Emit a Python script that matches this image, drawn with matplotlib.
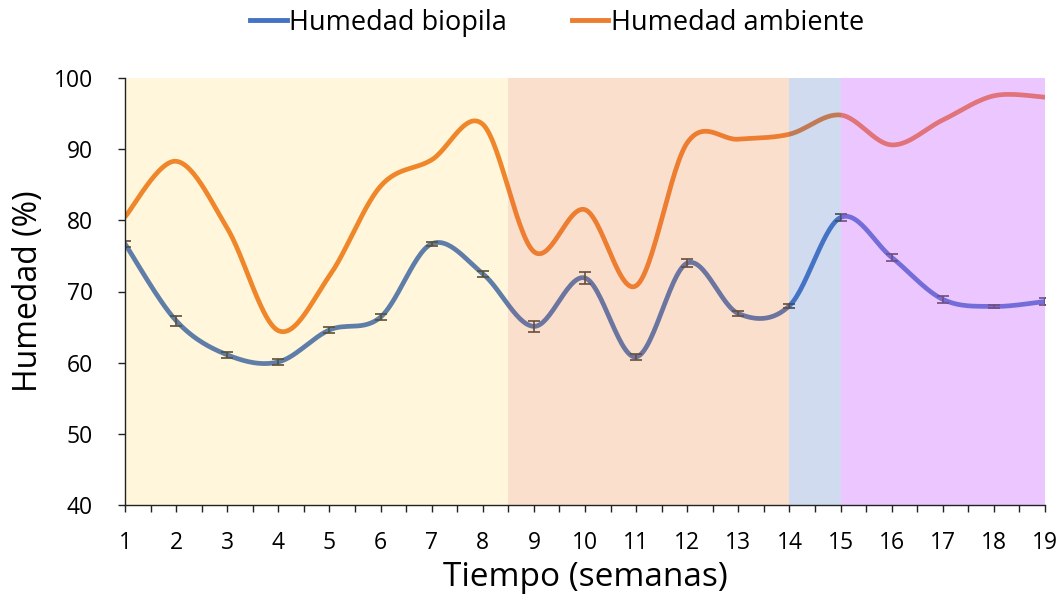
import numpy as np
import matplotlib
matplotlib.use("Agg")
import matplotlib.pyplot as plt
from matplotlib.lines import Line2D

plt.rcParams['font.family'] = ['Open Sans', 'DejaVu Sans']

weeks = list(range(1, 20))
biopila = [76.7, 65.9, 61.1, 60.1, 64.6, 66.4, 76.7, 72.5, 65.1, 71.9, 60.8, 74.0, 66.9, 68.0, 80.4, 74.8, 68.9, 67.9, 68.6]
biopila_err = [0.4, 0.7, 0.4, 0.4, 0.4, 0.4, 0.3, 0.4, 0.8, 0.8, 0.4, 0.5, 0.3, 0.3, 0.5, 0.5, 0.5, 0.2, 0.5]
ambiente = [80.5, 88.3, 78.9, 64.5, 72.2, 84.8, 88.5, 93.5, 75.6, 81.5, 70.8, 90.9, 91.4, 92.1, 94.8, 90.6, 94.1, 97.5, 97.3]

phase_edges = [1, 8.5, 14, 15, 19]
phase_colors = ['#FFC000', '#ED7D31', '#4472C4', '#CC66FF']
phase_alpha = [0.14, 0.24, 0.25, 0.36]

def smooth(x, y, n=30):
    x = np.asarray(x, float); y = np.asarray(y, float)
    P = np.column_stack([x, y])
    Pext = np.vstack([P[0], P, P[-1]])
    out = []
    t = np.linspace(0, 1, n)
    for i in range(len(P) - 1):
        p0, p3 = Pext[i + 1], Pext[i + 2]
        c1 = p0 + (Pext[i + 2] - Pext[i]) / 6
        c2 = p3 - (Pext[i + 3] - Pext[i + 1]) / 6
        seg = ((1 - t) ** 3)[:, None] * p0 + (3 * (1 - t) ** 2 * t)[:, None] * c1 + \
              (3 * (1 - t) * t ** 2)[:, None] * c2 + (t ** 3)[:, None] * p3
        out.append(seg if i == 0 else seg[1:])
    S = np.vstack(out)
    return S[:, 0], S[:, 1]

fig = plt.figure(figsize=(10.61, 5.97), dpi=100)
ax = fig.add_axes([125 / 1061, 1 - 505 / 597, 920 / 1061, 427 / 597])

blue = '#4472C4'
orange = '#ED7D31'

xs, ys = smooth(weeks, biopila)
ax.plot(xs, ys, color=blue, lw=3.4, zorder=2, solid_capstyle='round')
ax.errorbar(weeks, biopila, yerr=biopila_err, fmt='none', ecolor='#404040',
            elinewidth=1.2, capsize=4.5, capthick=1.2, zorder=2.5)
xs, ys = smooth(weeks, ambiente)
ax.plot(xs, ys, color=orange, lw=3.4, zorder=2, solid_capstyle='round')

for i in range(len(phase_colors)):
    ax.axvspan(phase_edges[i], phase_edges[i + 1], color=phase_colors[i],
               alpha=phase_alpha[i], lw=0, zorder=3)

ax.set_xlim(1, 19)
ax.set_ylim(40, 100)
ax.set_xticks(weeks)
ax.set_xticks(np.arange(1.5, 19, 1), minor=True)
ax.set_yticks(range(40, 101, 10))
for s in ['top', 'right']:
    ax.spines[s].set_visible(False)
for s in ['left', 'bottom']:
    ax.spines[s].set_color('#222222')
    ax.spines[s].set_linewidth(1.0)
    ax.spines[s].set_zorder(4)
ax.tick_params(axis='both', which='both', direction='out', length=5, width=1, color='#222222', labelsize=16.5)
ax.tick_params(axis='x', pad=14)
ax.tick_params(axis='y', pad=18)
ax.set_xlabel('Tiempo (semanas)', fontsize=24, labelpad=4)
ax.set_ylabel('Humedad (%)', fontsize=23, labelpad=6)

handles = [Line2D([], [], color=blue, lw=3.5), Line2D([], [], color=orange, lw=3.5)]
fig.legend(handles, ['Humedad biopila', 'Humedad ambiente'], loc='center',
           bbox_to_anchor=(0.525, 0.962), ncol=2, frameon=False, fontsize=19.5,
           handlelength=1.35, handletextpad=0.08, columnspacing=2.4)

fig.savefig('out.png', dpi=100)
